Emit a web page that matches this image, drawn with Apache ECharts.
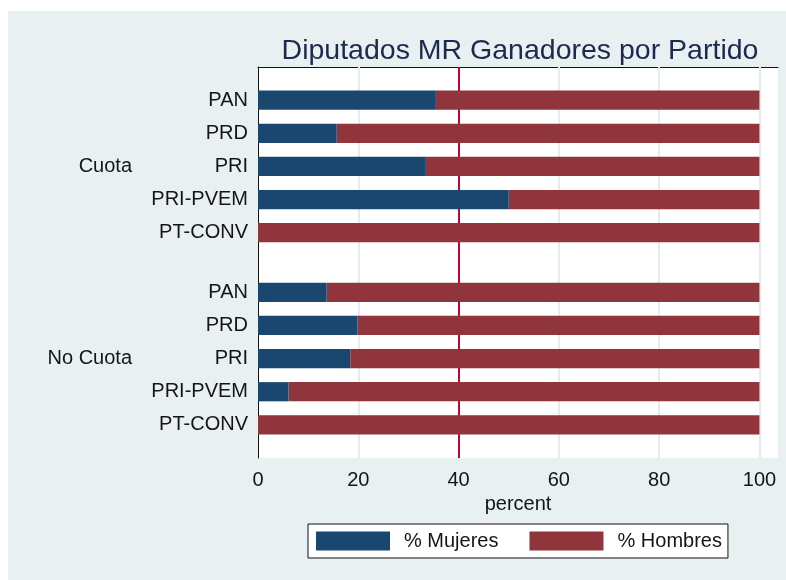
<!DOCTYPE html>
<html>
<head>
<meta charset="utf-8">
<script src="https://cdn.jsdelivr.net/npm/echarts@6/dist/echarts.min.js"></script>
<style>
  html, body { margin: 0; padding: 0; background: #fff; }
  #bg { position: absolute; left: 8px; top: 11px; width: 778px; height: 569px; background: #e8f0f2; }
  #main { position: absolute; left: 0; top: 0; width: 786px; height: 580px; }
</style>
</head>
<body>
<div id="bg"></div>
<div id="main"></div>
<script>
// datos
var partidos = ['PAN', 'PRD', 'PRI', 'PRI-PVEM', 'PT-CONV']
var grupos = ['Cuota', 'No Cuota']
var mujeresCuota = [35.3, 15.7, 33.3, 50, 0]
var hombresCuota = [64.7, 84.3, 66.7, 50, 100]
var mujeresNoCuota = [13.7, 19.8, 18.4, 6.1, 0]
var hombresNoCuota = [86.3, 80.2, 81.6, 93.9, 100]
var xTicks = [0, 20, 40, 60, 80, 100]
var lineaCuota = 40

var FONT = '"Liberation Sans", Arial, sans-serif'
var TEXT = '#151515'

// filas: 5 por grupo, con un hueco entre grupos
var mujeres = [mujeresCuota, mujeresNoCuota]
var hombres = [hombresCuota, hombresNoCuota]
var filas = []
var etiquetas = {}
var dataM = []
var dataH = []
grupos.forEach(function (g, gi) {
  partidos.forEach(function (p, i) {
    var pos = +(1 + i + gi * 5.8).toFixed(1)
    filas.push(pos)
    etiquetas[pos.toFixed(1)] = p
    dataM.push([0, mujeres[gi][i], pos])
    dataH.push([mujeres[gi][i], mujeres[gi][i] + hombres[gi][i], pos])
  })
})
var grupoPos = [3, 8.8]
var grupoEtiq = {}
grupoPos.forEach(function (v, i) { grupoEtiq[v.toFixed(1)] = grupos[i] })

function renderBar(params, api) {
  var a = api.coord([api.value(0), api.value(2)])
  var b = api.coord([api.value(1), api.value(2)])
  var h = api.size([0, 0.58])[1]
  return {
    type: 'rect',
    shape: { x: a[0], y: a[1] - h / 2, width: b[0] - a[0], height: h },
    style: api.style()
  }
}

var myChart = echarts.init(document.getElementById('main'))
myChart.setOption({
  backgroundColor: 'transparent',
  textStyle: { fontFamily: FONT },
  title: {
    text: 'Diputados MR Ganadores por Partido',
    left: 515,
    top: 32,
    textAlign: 'center',
    textStyle: { fontFamily: FONT, fontSize: 28.5, fontWeight: 'normal', color: '#1c2a4e' }
  },
  legend: {
    data: ['% Mujeres', '% Hombres'],
    left: 308,
    top: 524,
    padding: [7, 6, 7, 8],
    backgroundColor: '#fff',
    borderColor: '#111',
    borderWidth: 1,
    borderRadius: 0,
    icon: 'rect',
    itemWidth: 74,
    itemHeight: 19,
    itemGap: 31,
    textStyle: { fontFamily: FONT, fontSize: 20, color: TEXT, padding: [0, 0, 0, 9] }
  },
  grid: {
    left: 258,
    top: 67,
    right: 8,
    bottom: 122,
    show: true,
    backgroundColor: '#fff',
    borderWidth: 0,
    containLabel: false
  },
  xAxis: {
    type: 'value',
    min: 0,
    max: 103.7,
    name: 'percent',
    nameLocation: 'middle',
    nameGap: 33,
    nameTextStyle: { fontFamily: FONT, fontSize: 20, color: TEXT },
    axisLine: { show: true, lineStyle: { color: '#111', width: 1 } },
    axisTick: { show: true, length: 7, customValues: xTicks, lineStyle: { color: '#111' } },
    axisLabel: { customValues: xTicks, fontSize: 20, color: TEXT, margin: 12 },
    splitLine: { show: false }
  },
  yAxis: [
    {
      type: 'value',
      inverse: true,
      min: 0,
      max: 11.8,
      axisLine: { show: true, lineStyle: { color: '#111', width: 1 } },
      axisTick: { show: false },
      splitLine: { show: false },
      axisLabel: {
        customValues: filas,
        fontSize: 20,
        color: TEXT,
        margin: 10,
        formatter: function (v) { return etiquetas[(+v).toFixed(1)] || '' }
      }
    },
    {
      type: 'value',
      inverse: true,
      position: 'left',
      offset: 116,
      min: 0,
      max: 11.8,
      axisLine: { show: false },
      axisTick: { show: false },
      splitLine: { show: false },
      axisLabel: {
        customValues: grupoPos,
        fontSize: 20,
        color: TEXT,
        margin: 10,
        formatter: function (v) { return grupoEtiq[(+v).toFixed(1)] || '' }
      }
    }
  ],
  series: [
    {
      // lineas de la cuadricula
      type: 'line',
      data: [],
      z: 1,
      silent: true,
      markLine: {
        z: 1,
        silent: true,
        symbol: 'none',
        label: { show: false },
        lineStyle: { color: '#e3edf0', width: 2, type: 'solid' },
        data: xTicks.filter(function (v) { return v > 0 }).map(function (v) { return { xAxis: v } })
      }
    },
    {
      // linea del 40%
      type: 'line',
      data: [],
      z: 2,
      silent: true,
      markLine: {
        z: 2,
        silent: true,
        symbol: 'none',
        label: { show: false },
        lineStyle: { color: '#c10534', width: 2, type: 'solid' },
        data: [{ xAxis: lineaCuota }]
      }
    },
    {
      name: '% Mujeres',
      type: 'custom',
      z: 3,
      renderItem: renderBar,
      encode: { x: [0, 1], y: 2 },
      itemStyle: { color: '#1a476f' },
      data: dataM
    },
    {
      name: '% Hombres',
      type: 'custom',
      z: 3,
      renderItem: renderBar,
      encode: { x: [0, 1], y: 2 },
      itemStyle: { color: '#90353b' },
      data: dataH
    }
  ]
})
</script>
</body>
</html>
